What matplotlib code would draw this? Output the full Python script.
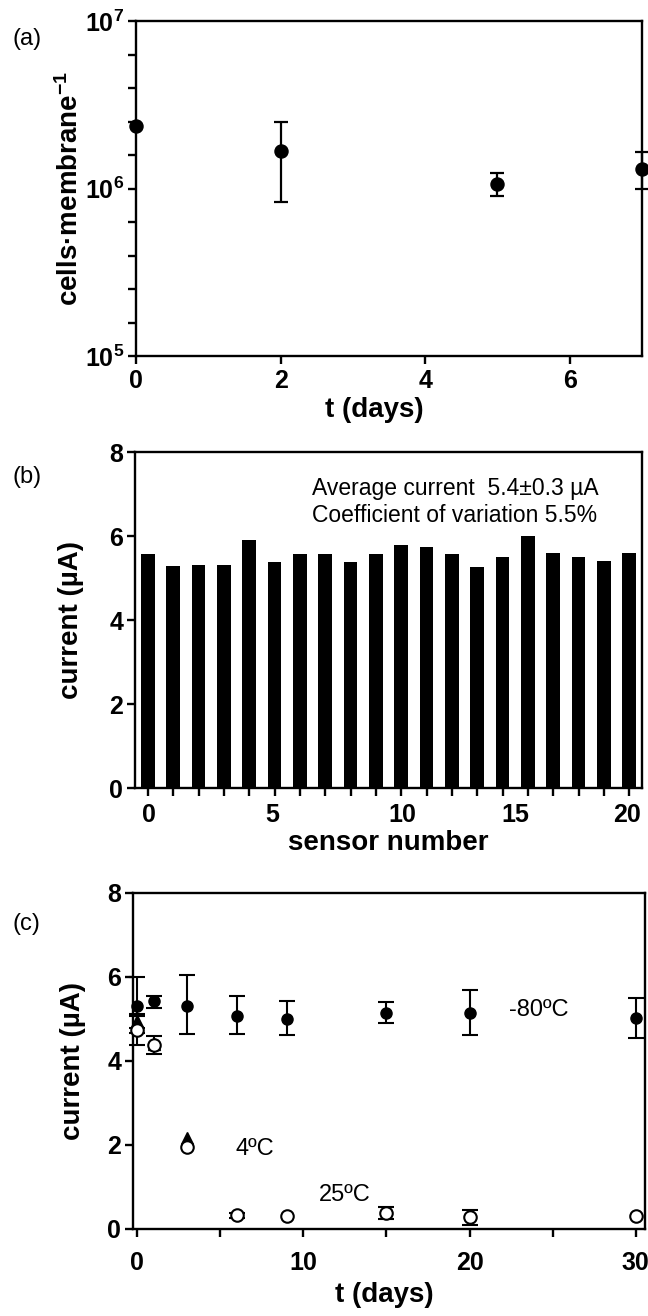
import matplotlib
matplotlib.use('Agg')
import matplotlib.pyplot as plt
import numpy as np
from matplotlib.ticker import FixedLocator, NullFormatter

plt.rcParams['font.family'] = ['Liberation Sans', 'DejaVu Sans']
plt.rcParams['font.weight'] = 'bold'
plt.rcParams['axes.labelweight'] = 'bold'
plt.rcParams['mathtext.fontset'] = 'custom'
plt.rcParams['mathtext.rm'] = 'Liberation Sans'
plt.rcParams['mathtext.bf'] = 'Liberation Sans:bold'
plt.rcParams['mathtext.it'] = 'Liberation Sans:italic'

# ---------------- data ----------------
# (a) cell counts
days_a = [0, 2, 5, 7]
cells_a = [2.36e6, 1.67e6, 1.07e6, 1.31e6]
cells_hi = [2.36e6, 2.50e6, 1.24e6, 1.65e6]
cells_lo = [2.36e6, 0.83e6, 0.90e6, 1.00e6]
cells_yticks = [1e5, 1e6, 1e7]
cells_yticklabels = [r'$\mathbf{10^{5}}$', r'$\mathbf{10^{6}}$', r'$\mathbf{10^{7}}$']

# (b) sensor currents
currents_b = [5.58, 5.28, 5.30, 5.30, 5.90, 5.37, 5.58, 5.58, 5.37, 5.58,
              5.78, 5.74, 5.58, 5.26, 5.51, 6.00, 5.60, 5.51, 5.40, 5.60]
sensor_tick_labels = ['0', '5', '10', '15', '20']
sensor_tick_pos = [0.05, 4.9, 10.05, 14.5, 18.9]

# (c) storage stability
days_c = [0, 1, 3, 6, 9, 15, 20, 30]
cur_m80 = [5.32, 5.42, 5.32, 5.08, 5.00, 5.15, 5.15, 5.03]
m80_up = [0.68, 0.13, 0.73, 0.46, 0.42, 0.26, 0.54, 0.48]
m80_dn = [0.66, 0.16, 0.67, 0.43, 0.38, 0.24, 0.53, 0.49]
days_4 = [0, 1, 3]
cur_4 = [4.95, 4.40, 2.16]
err_4 = [0.17, 0.0, 0.0]
cur_25 = [4.73, 4.38, 1.95, 0.33, 0.31, 0.38, 0.28, 0.30]
err_25 = [0.35, 0.22, 0.0, 0.06, 0.0, 0.14, 0.18, 0.0]

W, H = 648, 1316
fig = plt.figure(figsize=(W / 100, H / 100), dpi=100)


def box(l, t, r, b):
    return [l / W, 1 - b / H, (r - l) / W, (b - t) / H]


def style(ax, xpad):
    for s in ax.spines.values():
        s.set_linewidth(1.7)
    ax.tick_params(which='both', direction='out', length=5.5, width=1.7,
                   labelsize=18, top=False, right=False)
    ax.tick_params(axis='x', which='both', pad=xpad)
    ax.tick_params(axis='y', which='both', pad=3)


EB = dict(ecolor='black', elinewidth=1.5, capthick=1.5, capsize=5.8, fmt='none', clip_on=False)

# ---------------- (a) ----------------
ax = fig.add_axes(box(136, 21, 642, 356))
ax.set_yscale('log')
ax.plot(days_a, cells_a, 'o', color='black', ms=9.4, clip_on=False, zorder=3)
idx = [i for i in range(len(days_a)) if cells_hi[i] != cells_lo[i]]
ax.errorbar([days_a[i] for i in idx], [cells_a[i] for i in idx],
            yerr=[[cells_a[i] - cells_lo[i] for i in idx],
                  [cells_hi[i] - cells_a[i] for i in idx]],
            fmt='none', ecolor='black', elinewidth=1.6, capsize=5, capthick=1.6,
            clip_on=False, zorder=2)
ax.set_xlim(0, 7)
ax.set_ylim(1e5, 1e7)
ax.set_xticks([0, 2, 4, 6])
ax.set_yticks(cells_yticks)
ax.set_yticklabels(cells_yticklabels)
ax.yaxis.set_minor_locator(FixedLocator([10 ** (e + f) for e in (5, 6) for f in (0.2, 0.4, 0.6, 0.8)]))
ax.yaxis.set_minor_formatter(NullFormatter())
style(ax, 3.5)
ax.set_xlabel('t (days)', fontsize=20, fontweight='bold', va='center')
ax.xaxis.set_label_coords(0.47, -0.161)
ax.set_ylabel('cells·membrane$^{\\mathregular{-1}}$', fontsize=20, fontweight='bold', va='center')
ax.yaxis.set_label_coords((70 - 136) / 506, 0.5)

# ---------------- (b) ----------------
ax = fig.add_axes(box(135, 452, 642, 788))
ax.bar(np.arange(len(currents_b)), currents_b, width=0.54, color='black')
ax.set_xlim(-0.51, 19.5)
ax.set_ylim(0, 8)
ax.set_xticks(np.arange(len(currents_b)))
ax.set_xticklabels([''] * len(currents_b))
ax.set_xticks(sensor_tick_pos, sensor_tick_labels, minor=True)
ax.set_yticks([0, 2, 4, 6, 8])
style(ax, 5.6)
ax.tick_params(axis='x', which='minor', length=0, pad=5.6 + 5.5)
ax.set_xlabel('sensor number', fontsize=20, fontweight='bold', va='center')
ax.xaxis.set_label_coords(0.5, -0.164)
ax.set_ylabel('current (µA)', fontsize=20, fontweight='bold', va='center')
ax.yaxis.set_label_coords((70.6 - 135) / 507, 0.5)
ax.text(312 / W, 1 - 495 / H, 'Average current  5.4±0.3 µA', transform=fig.transFigure,
        fontsize=16.5, fontweight='normal', va='baseline', ha='left')
ax.text(312 / W, 1 - 522 / H, 'Coefficient of variation 5.5%', transform=fig.transFigure,
        fontsize=16.5, fontweight='normal', va='baseline', ha='left')

# ---------------- (c) ----------------
ax = fig.add_axes(box(133, 893, 645, 1229))
ax.plot(days_4, cur_4, '^', color='black', ms=8, zorder=2, clip_on=False)
i4 = [i for i in range(len(days_4)) if err_4[i] > 0]
ax.errorbar([days_4[i] for i in i4], [cur_4[i] for i in i4], yerr=[err_4[i] for i in i4],
            zorder=2, **EB)
ax.errorbar(days_c, cur_m80, yerr=[m80_dn, m80_up], zorder=3, **EB)
ax.plot(days_c, cur_m80, 'o', color='black', ms=8, zorder=3, clip_on=False)
i25 = [i for i in range(len(days_c)) if err_25[i] > 0]
ax.errorbar([days_c[i] for i in i25], [cur_25[i] for i in i25], yerr=[err_25[i] for i in i25],
            zorder=4, **EB)
ax.plot(days_c, cur_25, 'o', mfc='white', mec='black', mew=1.5, ms=9, zorder=4, clip_on=False)
ax.set_xlim(-0.24, 30.55)
ax.set_ylim(0, 8)
ax.set_xticks([0, 10, 20, 30])
ax.set_xticks([5, 15, 25], minor=True)
ax.set_yticks([0, 2, 4, 6, 8])
style(ax, 10.5)
ax.set_xlabel('t (days)', fontsize=20, fontweight='bold', va='center')
ax.xaxis.set_label_coords(0.49, -0.195)
ax.set_ylabel('current (µA)', fontsize=20, fontweight='bold', va='center')
ax.yaxis.set_label_coords((72.7 - 133) / 512, 0.5)
ax.text(22.4, 5.06, '-80ºC', fontsize=17, fontweight='normal', va='baseline')
ax.text(5.95, 1.77, '4ºC', fontsize=17, fontweight='normal', va='baseline')
ax.text(10.94, 0.66, '25ºC', fontsize=17, fontweight='normal', va='baseline')

# panel labels
for lab, yc in [('(a)', 39), ('(b)', 477), ('(c)', 924)]:
    fig.text(13 / W, 1 - yc / H, lab, fontsize=17, fontweight='normal', va='center', ha='left')

fig.savefig('out.png', dpi=100)
